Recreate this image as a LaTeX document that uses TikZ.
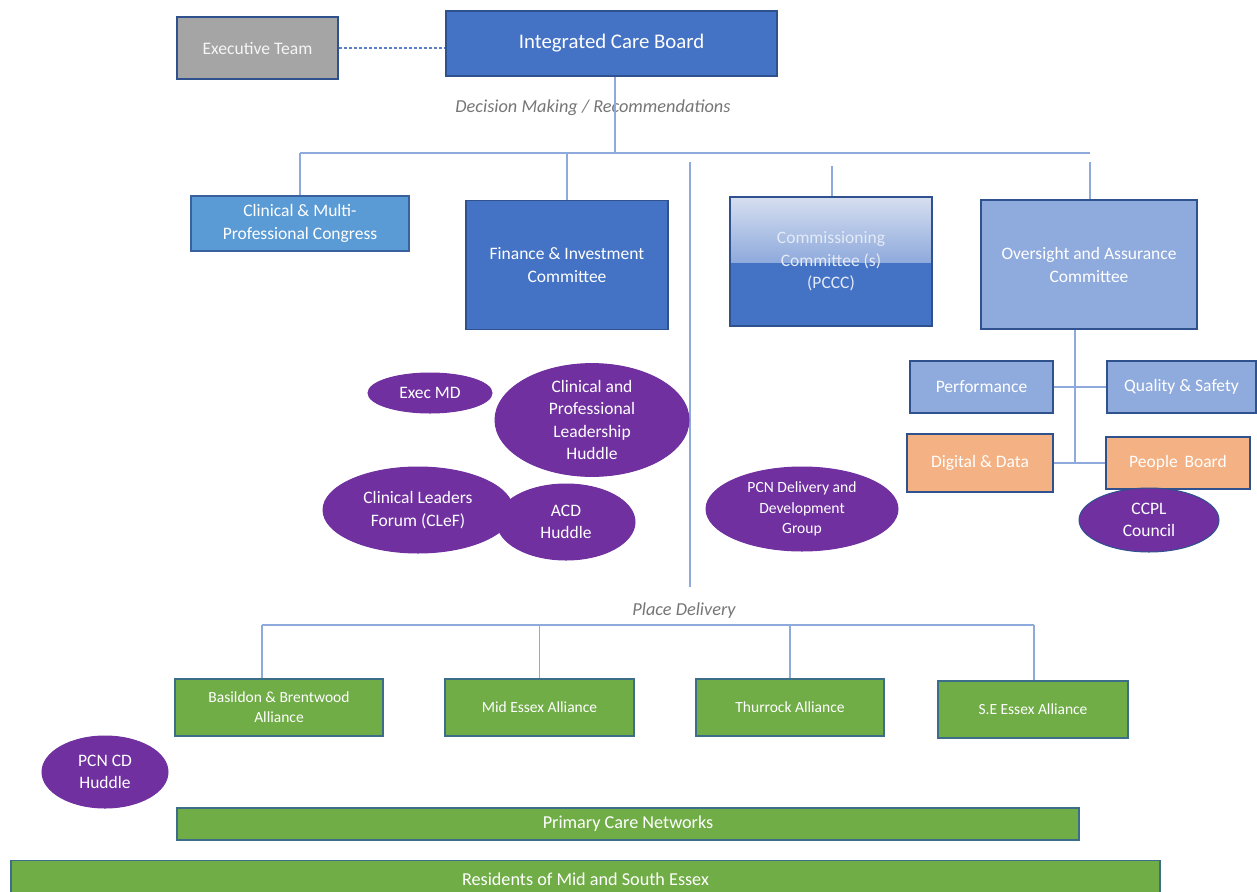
\documentclass[tikz,border=0pt]{standalone}
\usepackage{fontspec}
\setmainfont{Carlito}
\usetikzlibrary{shapes.geometric}
\definecolor{icbblue}{HTML}{4472C4}
\definecolor{bordc}{HTML}{2F528F}
\definecolor{execgray}{HTML}{A5A5A5}
\definecolor{congblue}{HTML}{5B9BD5}
\definecolor{lightblue}{HTML}{8FAADC}
\definecolor{orangef}{HTML}{F4B183}
\definecolor{greenf}{HTML}{70AD47}
\definecolor{greenb}{HTML}{3C6E8A}
\definecolor{purplef}{HTML}{7030A0}
\definecolor{connc}{HTML}{8EA9DB}
\definecolor{dashc}{HTML}{5A80CC}
\definecolor{labgray}{HTML}{767676}
\definecolor{commtop}{HTML}{D6DFF0}
\definecolor{commtext}{HTML}{E4EAF6}
\tikzset{
  box/.style={draw=bordc, line width=1.3pt, inner sep=0pt, text=white, align=center,
    font=\fontsize{17.5}{23}\selectfont},
  oval/.style={ellipse, draw=purplef, fill=purplef, line width=1pt, inner sep=0pt, text=white,
    align=center, font=\fontsize{17.5}{22.5}\selectfont},
  greenbox/.style={box, fill=greenf, draw=greenb, font=\fontsize{15.5}{20}\selectfont},
  conn/.style={draw=connc, line width=1.2pt},
  lab/.style={font=\fontsize{18.3}{22}\selectfont\itshape, text=labgray, inner sep=0pt}
}
\begin{document}
\begin{tikzpicture}[x=1pt,y=-1pt]
\clip (0,0) rectangle (1257,891);
\fill[white] (0,0) rectangle (1257,891);

% top
\node[box, fill=execgray, text=white!92!gray, minimum width=161pt, minimum height=62pt,
  font=\fontsize{17.6}{22}\selectfont] (exec) at (257.5,48) {Executive Team};
\node[box, fill=icbblue, minimum width=331pt, minimum height=65pt,
  font=\fontsize{20.8}{24}\selectfont] (icb) at (611.5,43.5) {Integrated Care Board};
\draw[draw=dashc, line width=1.3pt, dash pattern=on 3pt off 2pt] (exec.east) -- (exec.east -| icb.west);

\node[lab] (dm) at (593,108) {Decision Making / Recommendations};

\coordinate (bj) at (615,153);
\coordinate (b1) at (300,153);
\coordinate (b2) at (1090,153);
\draw[conn] (bj |- icb.south) -- (bj);
\draw[conn] (b1) -- (b2);

% committee row
\node[box, fill=congblue, draw=bordc!80!congblue, minimum width=218pt, minimum height=55pt] (cong) at (300,223.5)
  {Clinical \& Multi-\\Professional Congress};
\node[box, fill=icbblue, minimum width=202pt, minimum height=129pt] (fin) at (567,265)
  {Finance \& Investment\\Committee};
\fill[icbblue] (730,197) rectangle (932,326);
\shade[top color=commtop, bottom color=lightblue] (730,197) rectangle (932,262);
\node[box, text=commtext, minimum width=202pt, minimum height=129pt, font=\fontsize{17.5}{22.5}\selectfont] (comm) at (831,261.5)
  {Commissioning\\Committee (s)\\(PCCC)};
\node[box, fill=lightblue, minimum width=216pt, minimum height=129pt] (over) at (1089,264.5)
  {Oversight and Assurance\\Committee};

\draw[conn] (cong.north) -- (cong.north |- b1);
\draw[conn] (fin.north) -- (fin.north |- b1);
\coordinate (ctop) at (832,166);
\draw[conn] (ctop |- comm.north) -- (ctop);
\coordinate (otop) at (1090,162);
\draw[conn] (otop |- over.north) -- (otop);

% divider
\coordinate (dtop) at (690,162);
\coordinate (dbot) at (690,587);
\draw[conn] (dtop) -- (dbot);

% oversight sub boxes
\node[box, fill=lightblue, minimum width=143pt, minimum height=52pt] (perf) at (981.5,387) {Performance};
\node[box, fill=lightblue, minimum width=149pt, minimum height=52pt] (qual) at (1181.5,387) {Quality \& Safety};
\node[box, fill=orangef, minimum width=146pt, minimum height=58pt] (dig) at (980,463) {Digital \& Data};
\node[box, fill=orangef, minimum width=144pt, minimum height=52pt] (peop) at (1178,463) {People\, Board};
\coordinate (sp) at (1075,463);
\draw[conn] (sp |- over.south) -- (sp);
\draw[conn] (perf.east) -- (qual.west);
\draw[conn] (dig.east) -- (peop.west);
\node[oval, draw=bordc, minimum width=140pt, minimum height=64pt, font=\fontsize{17.5}{22}\selectfont] (ccpl) at (1149,520) {CCPL\\Council};

% ovals left
\node[oval, minimum width=124pt, minimum height=40pt] (execmd) at (430,393) {Exec MD};
\node[oval, minimum width=194pt, minimum height=90pt] (cplh) at (592,420)
  {Clinical and\\Professional\\Leadership\\Huddle};
\node[oval, minimum width=190pt, minimum height=86pt] (clef) at (418,510)
  {Clinical Leaders\\Forum (CLeF)};
\node[oval, minimum width=138pt, minimum height=76pt] (acd) at (566,522) {ACD\\Huddle};
\node[oval, minimum width=192pt, minimum height=84pt, font=\fontsize{15.6}{20.5}\selectfont] (pcndd) at (802,509)
  {PCN Delivery and\\Development\\Group};

% place delivery
\node[lab] (pd) at (684,611) {Place Delivery};
\coordinate (p1) at (262,625);
\coordinate (p2) at (1034,625);
\draw[conn] (p1) -- (p2);

\node[greenbox, minimum width=208pt, minimum height=57pt] (bas) at (279,707.5) {Basildon \& Brentwood\\Alliance};
\node[greenbox, minimum width=189pt, minimum height=57pt] (mid) at (539.5,707.5) {Mid Essex Alliance};
\node[greenbox, minimum width=188pt, minimum height=57pt] (thu) at (790,707.5) {Thurrock Alliance};
\node[greenbox, minimum width=190pt, minimum height=57pt] (se) at (1033,709.5) {S.E Essex Alliance};

\draw[conn] (p1) -- (p1 |- bas.north);
\draw[conn] (mid.north |- p1) -- (mid.north);
\draw[conn] (thu.north |- p1) -- (thu.north);
\draw[conn] (p2) -- (p2 |- se.north);

\node[oval, minimum width=126pt, minimum height=72pt] (pcncd) at (105,772) {PCN CD\\Huddle};

\node[greenbox, minimum width=902pt, minimum height=32pt, font=\fontsize{18.2}{22}\selectfont] (pcn) at (628,824) {Primary Care Networks};
\node[greenbox, minimum width=1149pt, minimum height=40pt, anchor=north] (res) at (585.5,860) {};
\node[text=white, font=\fontsize{18.2}{22}\selectfont, inner sep=0pt] (restxt) at (585.5,879) {Residents of Mid and South Essex};
\end{tikzpicture}
\end{document}
